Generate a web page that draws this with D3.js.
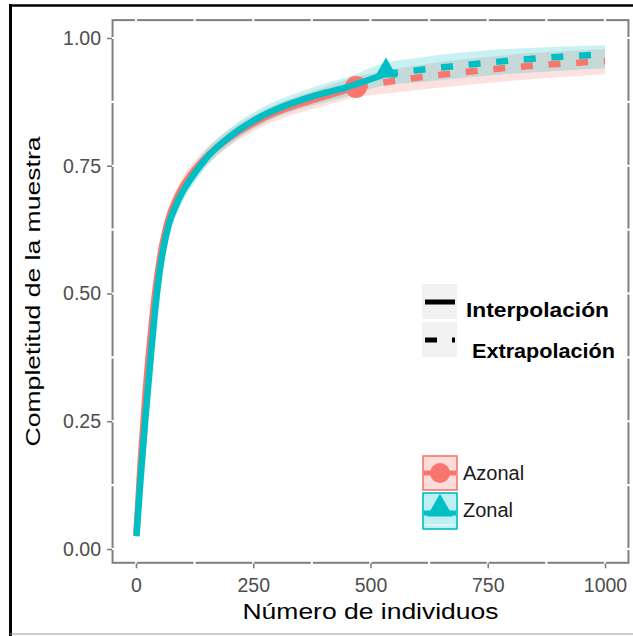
<!DOCTYPE html>
<html>
<head>
<meta charset="utf-8">
<script src="https://cdn.jsdelivr.net/npm/d3@7"></script>
<style>
  html, body { margin: 0; padding: 0; background: #fff; }
  svg { display: block; font-family: "Liberation Sans", Arial, sans-serif; }
</style>
</head>
<body>
<svg id="chart" width="633" height="636"></svg>
<script>
// ---------- data ----------
const seriesNames = ["Azonal", "Zonal"];
const seriesColors = ["#F8766D", "#00BFC4"];
const methodNames = ["Interpolación", "Extrapolación"];

// Azonal – interpolated (observed up to n = 469)
const azN  = [1, 10, 20, 30, 40, 50, 60, 70, 85, 100, 125, 150, 200, 250, 300, 350, 400, 469];
const azC  = [0.03, 0.17, 0.3, 0.405, 0.495, 0.562, 0.612, 0.648, 0.683, 0.71, 0.742, 0.767, 0.805, 0.833, 0.855, 0.871, 0.885, 0.904];
const azLo = [0.02, 0.15, 0.277, 0.38, 0.47, 0.539, 0.59, 0.627, 0.663, 0.691, 0.724, 0.75, 0.789, 0.817, 0.839, 0.854, 0.867, 0.884];
const azHi = [0.04, 0.19, 0.323, 0.43, 0.52, 0.585, 0.634, 0.669, 0.703, 0.729, 0.76, 0.784, 0.821, 0.849, 0.871, 0.888, 0.903, 0.924];
// Azonal – extrapolated
const azExN  = [469, 550, 650, 750, 850, 950, 1000];
const azExC  = [0.904, 0.916, 0.928, 0.938, 0.946, 0.952, 0.955];
const azExLo = [0.884, 0.893, 0.903, 0.912, 0.92, 0.926, 0.929];
const azExHi = [0.924, 0.939, 0.953, 0.963, 0.971, 0.976, 0.978];

// Zonal – interpolated (observed up to n = 533)
const zoN  = [1, 10, 20, 30, 40, 50, 60, 70, 85, 100, 125, 150, 200, 250, 300, 350, 400, 450, 533];
const zoC  = [0.025, 0.14, 0.255, 0.36, 0.46, 0.54, 0.595, 0.635, 0.672, 0.70, 0.735, 0.765, 0.807, 0.838, 0.861, 0.878, 0.892, 0.904, 0.93];
const zoLo = [0.015, 0.12, 0.232, 0.335, 0.435, 0.517, 0.573, 0.614, 0.652, 0.681, 0.717, 0.748, 0.791, 0.822, 0.845, 0.861, 0.874, 0.885, 0.908];
const zoHi = [0.035, 0.16, 0.278, 0.385, 0.485, 0.563, 0.617, 0.656, 0.692, 0.719, 0.753, 0.782, 0.823, 0.854, 0.877, 0.895, 0.91, 0.923, 0.952];
// Zonal – extrapolated
const zoExN  = [533, 600, 700, 800, 900, 1000];
const zoExC  = [0.93, 0.937, 0.947, 0.956, 0.963, 0.968];
const zoExLo = [0.908, 0.913, 0.922, 0.93, 0.936, 0.941];
const zoExHi = [0.952, 0.961, 0.972, 0.979, 0.983, 0.986];

const xTicks = [0, 250, 500, 750, 1000];
const yTicks = [0, 0.25, 0.5, 0.75, 1.0];
const xTitle = "Número de individuos";
const yTitle = "Completitud de la muestra";

// ---------- layout ----------
const svg = d3.select("#chart");
const x = d3.scaleLinear().domain([0, 1000]).range([136, 605]);
const y = d3.scaleLinear().domain([0, 1]).range([549, 38]);
const px0 = x(-50), px1 = x(1050), py0 = y(1.035), py1 = y(-0.027);

// outer frame
svg.append("line").attr("x1", 10.5).attr("x2", 10.5).attr("y1", 4).attr("y2", 636)
  .attr("stroke", "#000").attr("stroke-width", 3);
svg.append("line").attr("x1", 9).attr("x2", 633).attr("y1", 5.5).attr("y2", 5.5)
  .attr("stroke", "#000").attr("stroke-width", 2.5);
svg.append("line").attr("x1", 10).attr("x2", 633).attr("y1", 634).attr("y2", 634)
  .attr("stroke", "#9a9a9a").attr("stroke-width", 1);

// panel border
svg.append("rect").attr("x", px0).attr("y", py0).attr("width", px1 - px0).attr("height", py1 - py0)
  .attr("fill", "#fff").attr("stroke", "#7f7f7f").attr("stroke-width", 2);

// white grid lines (visible only where they cut the border)
const xGrid = d3.range(0, 1001, 125);
const yGrid = d3.range(0, 1.001, 0.125);
svg.append("g").selectAll("line").data(xGrid).join("line")
  .attr("x1", d => x(d)).attr("x2", d => x(d)).attr("y1", py0 - 2).attr("y2", py1 + 2)
  .attr("stroke", "#fff").attr("stroke-width", 2.2);
svg.append("g").selectAll("line").data(yGrid).join("line")
  .attr("y1", d => y(d)).attr("y2", d => y(d)).attr("x1", px0 - 2).attr("x2", px1 + 2)
  .attr("stroke", "#fff").attr("stroke-width", 2.2);

// axes
const yAxis = svg.append("g").attr("transform", `translate(${px0 - 0.5},0)`)
  .call(d3.axisLeft(y).tickValues(yTicks).tickFormat(d3.format(".2f")).tickSize(5).tickPadding(6));
const xAxis = svg.append("g").attr("transform", `translate(0,${py1 + 0.5})`)
  .call(d3.axisBottom(x).tickValues(xTicks).tickFormat(d3.format("d")).tickSize(5).tickPadding(10));
[yAxis, xAxis].forEach(a => {
  a.select(".domain").remove();
  a.selectAll(".tick line").attr("stroke", "#7f7f7f").attr("stroke-width", 1.6);
  a.selectAll(".tick text").attr("fill", "#4d4d4d").attr("font-size", 19.5)
    .attr("font-family", "'Liberation Sans', Arial, sans-serif");
});

// titles
svg.append("text").attr("x", (px0 + px1) / 2).attr("y", 619).attr("text-anchor", "middle")
  .attr("font-size", 22).attr("fill", "#000")
  .attr("textLength", 256).attr("lengthAdjust", "spacingAndGlyphs").text(xTitle);
svg.append("text").attr("transform", `translate(40,${(py0 + py1) / 2}) rotate(-90)`)
  .attr("text-anchor", "middle").attr("font-size", 21).attr("fill", "#000")
  .attr("textLength", 310).attr("lengthAdjust", "spacingAndGlyphs").text(yTitle);

// ---------- marks ----------
const area = d3.area().x(d => x(d[0])).y0(d => y(d[1])).y1(d => y(d[2])).curve(d3.curveMonotoneX);
const line = d3.line().x(d => x(d[0])).y(d => y(d[1])).curve(d3.curveMonotoneX);

const az = {
  ribbon: azN.map((n, i) => [n, azLo[i], azHi[i]]).concat(azExN.slice(1).map((n, i) => [n, azExLo[i + 1], azExHi[i + 1]])),
  interp: azN.map((n, i) => [n, azC[i]]),
  extrap: azExN.map((n, i) => [n, azExC[i]])
};
const zo = {
  ribbon: zoN.map((n, i) => [n, zoLo[i], zoHi[i]]).concat(zoExN.slice(1).map((n, i) => [n, zoExLo[i + 1], zoExHi[i + 1]])),
  interp: zoN.map((n, i) => [n, zoC[i]]),
  extrap: zoExN.map((n, i) => [n, zoExC[i]])
};

const gData = svg.append("g");
gData.append("path").attr("d", area(az.ribbon)).attr("fill", seriesColors[0]).attr("fill-opacity", 0.22);
gData.append("path").attr("d", area(zo.ribbon)).attr("fill", seriesColors[1]).attr("fill-opacity", 0.22);

const lw = 6.5;
gData.append("path").attr("d", line(az.extrap)).attr("fill", "none").attr("stroke", seriesColors[0])
  .attr("stroke-width", lw).attr("stroke-dasharray", "12,15.7");
gData.append("path").attr("d", line(az.interp)).attr("fill", "none").attr("stroke", seriesColors[0])
  .attr("stroke-width", lw);
gData.append("circle").attr("cx", x(azN[azN.length - 1])).attr("cy", y(azC[azC.length - 1]))
  .attr("r", 11).attr("fill", seriesColors[0]);

gData.append("path").attr("d", line(zo.extrap)).attr("fill", "none").attr("stroke", seriesColors[1])
  .attr("stroke-width", lw).attr("stroke-dasharray", "12,15.7");
gData.append("path").attr("d", line(zo.interp)).attr("fill", "none").attr("stroke", seriesColors[1])
  .attr("stroke-width", lw);
const tri = d3.symbol().type(d3.symbolTriangle).size(230);
gData.append("path").attr("d", tri())
  .attr("transform", `translate(${x(zoN[zoN.length - 1])},${y(zoC[zoC.length - 1]) - 3})`)
  .attr("fill", seriesColors[1]);

// ---------- legends ----------
// linetype legend
const lt = svg.append("g");
const ltY = [284, 322];
lt.selectAll("rect").data(methodNames).join("rect")
  .attr("x", 422).attr("y", (d, i) => ltY[i]).attr("width", 35).attr("height", 35).attr("fill", "#f2f2f2");
lt.append("line").attr("x1", 425).attr("x2", 455).attr("y1", 302).attr("y2", 302)
  .attr("stroke", "#000").attr("stroke-width", 5);
lt.append("line").attr("x1", 425).attr("x2", 455).attr("y1", 340).attr("y2", 340)
  .attr("stroke", "#000").attr("stroke-width", 5).attr("stroke-dasharray", "12,15");
lt.selectAll("text").data(methodNames).join("text")
  .attr("x", (d, i) => [466, 472][i]).attr("y", (d, i) => [317, 358][i])
  .attr("font-size", 20).attr("font-weight", "bold").attr("fill", "#000")
  .attr("textLength", 143).attr("lengthAdjust", "spacingAndGlyphs").text(d => d);

// colour/shape legend
const cl = svg.append("g");
const clY = [456, 493];
cl.selectAll("rect").data(seriesNames).join("rect")
  .attr("x", 423).attr("y", (d, i) => clY[i]).attr("width", 34).attr("height", (d, i) => [34, 36][i])
  .attr("fill", (d, i) => seriesColors[i]).attr("fill-opacity", 0.25)
  .attr("stroke", (d, i) => seriesColors[i]).attr("stroke-width", 1.6);
cl.append("line").attr("x1", 424).attr("x2", 456).attr("y1", 473).attr("y2", 473)
  .attr("stroke", seriesColors[0]).attr("stroke-width", 5);
cl.append("circle").attr("cx", 440).attr("cy", 473).attr("r", 10).attr("fill", seriesColors[0]);
cl.append("line").attr("x1", 424).attr("x2", 456).attr("y1", 513).attr("y2", 513)
  .attr("stroke", seriesColors[1]).attr("stroke-width", 5);
cl.append("path").attr("d", d3.symbol().type(d3.symbolTriangle).size(300)())
  .attr("transform", "translate(440,509)").attr("fill", seriesColors[1]);
cl.append("line").attr("x1", 425).attr("x2", 455).attr("y1", 525).attr("y2", 525)
  .attr("stroke", "#fff").attr("stroke-opacity", 0.6).attr("stroke-width", 1.5);
cl.selectAll("text").data(seriesNames).join("text")
  .attr("x", 463).attr("y", (d, i) => [480, 517][i])
  .attr("font-size", 20).attr("fill", "#1a1a1a").text(d => d);
</script>
</body>
</html>
